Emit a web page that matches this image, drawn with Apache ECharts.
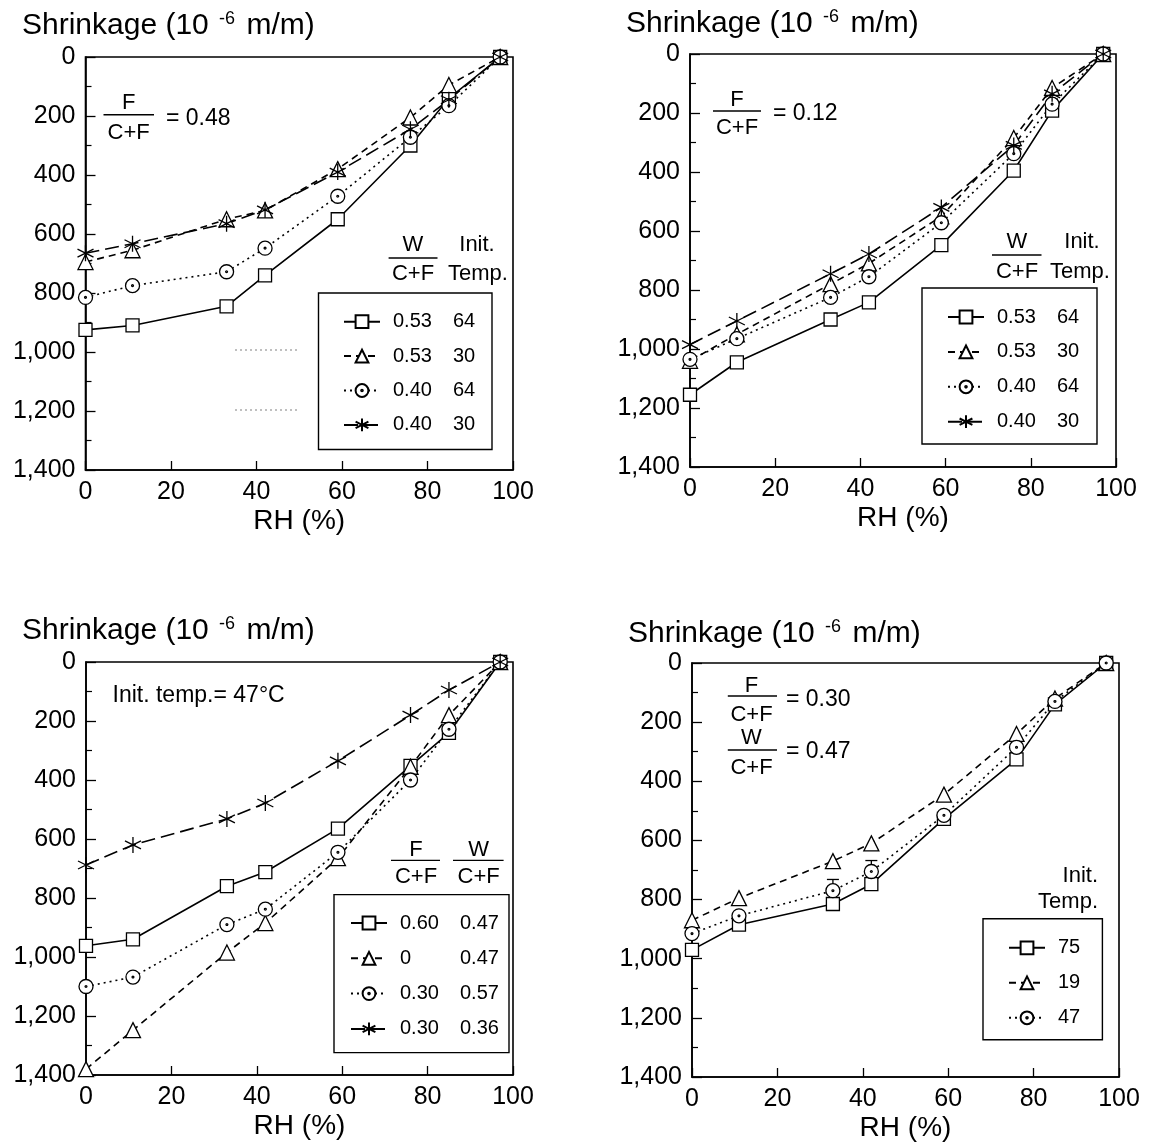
<!DOCTYPE html>
<html>
<head>
<meta charset="utf-8">
<script src="https://cdn.jsdelivr.net/npm/echarts@6/dist/echarts.min.js"></script>
<style>
  html, body { margin: 0; background: #fff; }
  #chart { width: 1152px; height: 1148px; }
</style>
</head>
<body>
<div id="chart"></div>
<script>
const FONT = '"Liberation Sans", Arial, Helvetica, sans-serif';

// relative humidity of the measurements (%)
const rh = [0, 11, 33, 42, 59, 76, 85, 97];

// panel A : F/(C+F) = 0.48
const sqA = [925, 910, 845, 740, 550, 300, 140, 0];
const triA = [695, 655, 550, 520, 380, 205, 95, 0];
const cirA = [815, 775, 728, 648, 472, 272, 165, 0];
const starA = [665, 633, 565, 518, 390, 245, 145, 0];
const legA = [["0.53", "64"], ["0.53", "30"], ["0.40", "64"], ["0.40", "30"]];

// panel B : F/(C+F) = 0.12
const sqB = [1155, 1045, 900, 842, 648, 395, 192, 0];
const triB = [1040, 950, 780, 710, 550, 285, 115, 0];
const cirB = [1035, 965, 825, 755, 572, 338, 170, 0];
const starB = [985, 905, 745, 678, 520, 310, 135, 0];
const legB = [["0.53", "64"], ["0.53", "30"], ["0.40", "64"], ["0.40", "30"]];

// panel C : init. temp. 47 C
const sqC = [962, 940, 760, 712, 565, 352, 240, 0];
const triC = [1380, 1248, 985, 885, 665, 355, 180, 0];
const cirC = [1100, 1068, 890, 838, 645, 400, 228, 0];
const starC = [688, 620, 532, 478, 335, 180, 95, 0];
const legC = [["0.60", "0.47"], ["0", "0.47"], ["0.30", "0.57"], ["0.30", "0.36"]];

// panel D : F/(C+F) = 0.30, W/(C+F) = 0.47
const sqD = [970, 885, 815, 748, 527, 326, 140, 0];
const triD = [870, 795, 670, 610, 445, 240, 120, 0];
const cirD = [915, 855, 770, 705, 515, 285, 130, 0];
const legD = [["75"], ["19"], ["47"]];
// scatter bars on the 47 C curve: [RH, value, upper end]
const errD = [[0, 915, 895], [33, 770, 732], [42, 705, 668]];

const yMin = 0, yMax = 1400, yStep = 200;
const xMin = 0, xMax = 100, xStep = 20;

const CIRCLE = "path://M0,-10A10,10 0 1,1 0,10A10,10 0 1,1 0,-10ZM0,-1.3A1.3,1.3 0 1,1 0,1.3A1.3,1.3 0 1,1 0,-1.3Z";
const STAR = "path://M0,-10L0,10M-8.66,-5L8.66,5M-8.66,5L8.66,-5";

const marks = {
  sq: { symbol: "rect", size: 13, dash: "solid", fill: "#fff" },
  tri: { symbol: "triangle", size: 15, dash: [7, 5], fill: "#fff" },
  cir: { symbol: CIRCLE, size: 14, dash: [2, 4], fill: "#fff" },
  star: { symbol: STAR, size: 16, dash: [14, 6], fill: "none" }
};

const panels = [
  { grid: { left: 85.5, top: 57, width: 427.5, height: 413 },
    legend: { left: 343, top: 311.7, gap: 14.4 },
    lines: [["sq", sqA], ["tri", triA], ["cir", cirA], ["star", starA]], labels: legA },
  { grid: { left: 690, top: 54, width: 426, height: 413 },
    legend: { left: 947, top: 307, gap: 14.9 },
    lines: [["sq", sqB], ["tri", triB], ["cir", cirB], ["star", starB]], labels: legB },
  { grid: { left: 86, top: 662, width: 427, height: 413 },
    legend: { left: 350, top: 913, gap: 15.3 },
    lines: [["sq", sqC], ["tri", triC], ["cir", cirC], ["star", starC]], labels: legC },
  { grid: { left: 692, top: 663, width: 427, height: 414 },
    legend: { left: 1008, top: 937.8, gap: 15 },
    lines: [["sq", sqD], ["tri", triD], ["cir", cirD]], labels: legD }
];

const titlePos = [[22, 10], [626, 8], [22, 615], [628, 618]];

const legendText = {};
const series = [];
const legends = [];

panels.forEach((p, i) => {
  const names = [];
  p.lines.forEach(([kind, vals], k) => {
    const m = marks[kind];
    const name = "p" + i + "_" + k;
    names.push(name);
    const lab = p.labels[k];
    legendText[name] = lab.length > 1
      ? "{p| }{a|" + lab[0] + "}{b|" + lab[1] + "}"
      : "{p| }{b|" + lab[0] + "}";
    series.push({
      type: "line",
      name: name,
      xAxisIndex: i,
      yAxisIndex: i,
      data: rh.map((x, j) => [x, vals[j]]),
      symbol: m.symbol,
      symbolSize: m.size,
      showSymbol: true,
      clip: false,
      z: 3,
      lineStyle: { color: "#000", width: 1.6, type: m.dash },
      itemStyle: { color: m.fill, borderColor: "#000", borderWidth: 1.3 },
      emphasis: { disabled: true },
      animation: false
    });
  });
  legends.push({
    orient: "vertical",
    left: p.legend.left,
    top: p.legend.top,
    padding: 0,
    itemWidth: 36,
    itemHeight: 16,
    itemGap: p.legend.gap,
    selectedMode: false,
    data: names,
    formatter: (n) => legendText[n],
    textStyle: {
      color: "#000",
      fontFamily: FONT,
      fontSize: 20,
      lineHeight: 20,
      rich: {
        p: { width: 8, fontSize: 20, fontFamily: FONT },
        a: { width: 60, fontSize: 20, fontFamily: FONT, color: "#000" },
        b: { fontSize: 20, fontFamily: FONT, color: "#000" }
      }
    }
  });
});

// small scatter bars in panel D
series.push({
  type: "custom",
  name: "errD",
  xAxisIndex: 3,
  yAxisIndex: 3,
  data: errD,
  encode: { x: 0, y: 1 },
  z: 2,
  silent: true,
  animation: false,
  renderItem: (params, api) => {
    const lo = api.coord([api.value(0), api.value(1)]);
    const hi = api.coord([api.value(0), api.value(2)]);
    const st = { stroke: "#000", lineWidth: 1.3 };
    return {
      type: "group",
      children: [
        { type: "line", shape: { x1: lo[0], y1: lo[1], x2: hi[0], y2: hi[1] }, style: st },
        { type: "line", shape: { x1: hi[0] - 6, y1: hi[1], x2: hi[0] + 6, y2: hi[1] }, style: st }
      ]
    };
  }
});

const grids = panels.map((p) => ({
  left: p.grid.left, top: p.grid.top, width: p.grid.width, height: p.grid.height,
  show: true, borderColor: "#000", borderWidth: 1.6, backgroundColor: "transparent"
}));

const xAxes = panels.map((p, i) => ({
  gridIndex: i,
  type: "value",
  min: xMin, max: xMax, interval: xStep,
  name: "RH (%)",
  nameLocation: "middle",
  nameGap: 37,
  nameTextStyle: { color: "#000", fontFamily: FONT, fontSize: 28 },
  axisLine: { onZero: false, lineStyle: { color: "#000", width: 1.6 } },
  axisTick: { inside: true, length: 9, lineStyle: { color: "#000", width: 1.3 } },
  axisLabel: { color: "#000", fontFamily: FONT, fontSize: 25, margin: 10 },
  splitLine: { show: false }
}));

const yAxes = panels.map((p, i) => ({
  gridIndex: i,
  type: "value",
  inverse: true,
  min: yMin, max: yMax, interval: yStep,
  axisLine: { onZero: false, lineStyle: { color: "#000", width: 1.6 } },
  axisTick: { inside: true, length: 10, lineStyle: { color: "#000", width: 1.3 } },
  minorTick: { show: true, splitNumber: 2, length: 6, lineStyle: { color: "#000", width: 1.2 } },
  axisLabel: {
    color: "#000", fontFamily: FONT, fontSize: 25, margin: 10,
    formatter: (v) => v.toLocaleString("en-US")
  },
  splitLine: { show: false },
  minorSplitLine: { show: false }
}));

const titles = titlePos.map(([x, y]) => ({
  text: "{a|Shrinkage (10 }{s|-6}{a| m/m)}",
  left: x, top: y, padding: 0,
  textStyle: {
    fontWeight: "normal",
    rich: {
      a: { fontFamily: FONT, fontSize: 30, fontWeight: "normal", color: "#000", lineHeight: 32 },
      s: { fontFamily: FONT, fontSize: 18, fontWeight: "normal", color: "#000", lineHeight: 32, verticalAlign: "top", padding: [0, 3, 0, 2] }
    }
  }
}));

// annotation helpers
const txt = (x, y, s, align, size) => ({
  type: "text", x: x, y: y, silent: true,
  style: { text: s, fill: "#000", font: (size || 22) + "px " + FONT, align: align || "center", verticalAlign: "middle" }
});
const hline = (x1, x2, y, color, dash) => ({
  type: "line", silent: true,
  shape: { x1: x1, y1: y, x2: x2, y2: y },
  style: { stroke: color || "#000", lineWidth: 1.4, lineDash: dash || null }
});
const box = (x1, y1, x2, y2) => ({
  type: "rect", silent: true, z: 1,
  shape: { x: x1, y: y1, width: x2 - x1, height: y2 - y1 },
  style: { fill: "#fff", stroke: "#000", lineWidth: 1.4 }
});

const graphics = [
  // panel A
  txt(128.7, 103, "F"), hline(103.5, 154, 114.7), txt(128.7, 133, "C+F"), txt(166, 119, "= 0.48", "left", 23),
  txt(413, 245, "W"), hline(388.6, 437.5, 258), txt(413, 274, "C+F"),
  txt(477, 245, "Init."), txt(478, 274, "Temp."),
  box(318.5, 293, 492, 449.5),
  hline(235, 298, 350, "#aaa", [2, 3]), hline(235, 298, 410, "#aaa", [2, 3]),
  // panel B
  txt(737, 100, "F"), hline(713, 761, 111), txt(737, 128, "C+F"), txt(773, 113.6, "= 0.12", "left", 23),
  txt(1017, 242, "W"), hline(992, 1041.5, 255), txt(1017, 272, "C+F"),
  txt(1082, 242, "Init."), txt(1080, 272, "Temp."),
  box(922, 288, 1097, 444),
  // panel C
  txt(112.5, 696, "Init. temp.= 47°C", "left", 23),
  txt(416, 850, "F"), hline(391, 440, 860.4), txt(416, 877, "C+F"),
  txt(478.6, 850, "W"), hline(453, 503.6, 860.4), txt(478.6, 877, "C+F"),
  box(334, 894.6, 509, 1052.6),
  // panel D
  txt(751.5, 686, "F"), hline(727.8, 777, 696), txt(751.5, 715, "C+F"), txt(786, 699.6, "= 0.30", "left", 23),
  txt(751.5, 738, "W"), hline(727.8, 777, 750), txt(751.5, 768, "C+F"), txt(786, 752, "= 0.47", "left", 23),
  txt(1098, 876, "Init.", "right"), txt(1098, 902, "Temp.", "right"),
  box(983, 918.8, 1102.4, 1039.7)
];

const chart = echarts.init(document.getElementById("chart"), null, { renderer: "canvas" });
chart.setOption({
  backgroundColor: "#fff",
  animation: false,
  title: titles,
  grid: grids,
  xAxis: xAxes,
  yAxis: yAxes,
  legend: legends,
  graphic: graphics,
  series: series
});
</script>
</body>
</html>
